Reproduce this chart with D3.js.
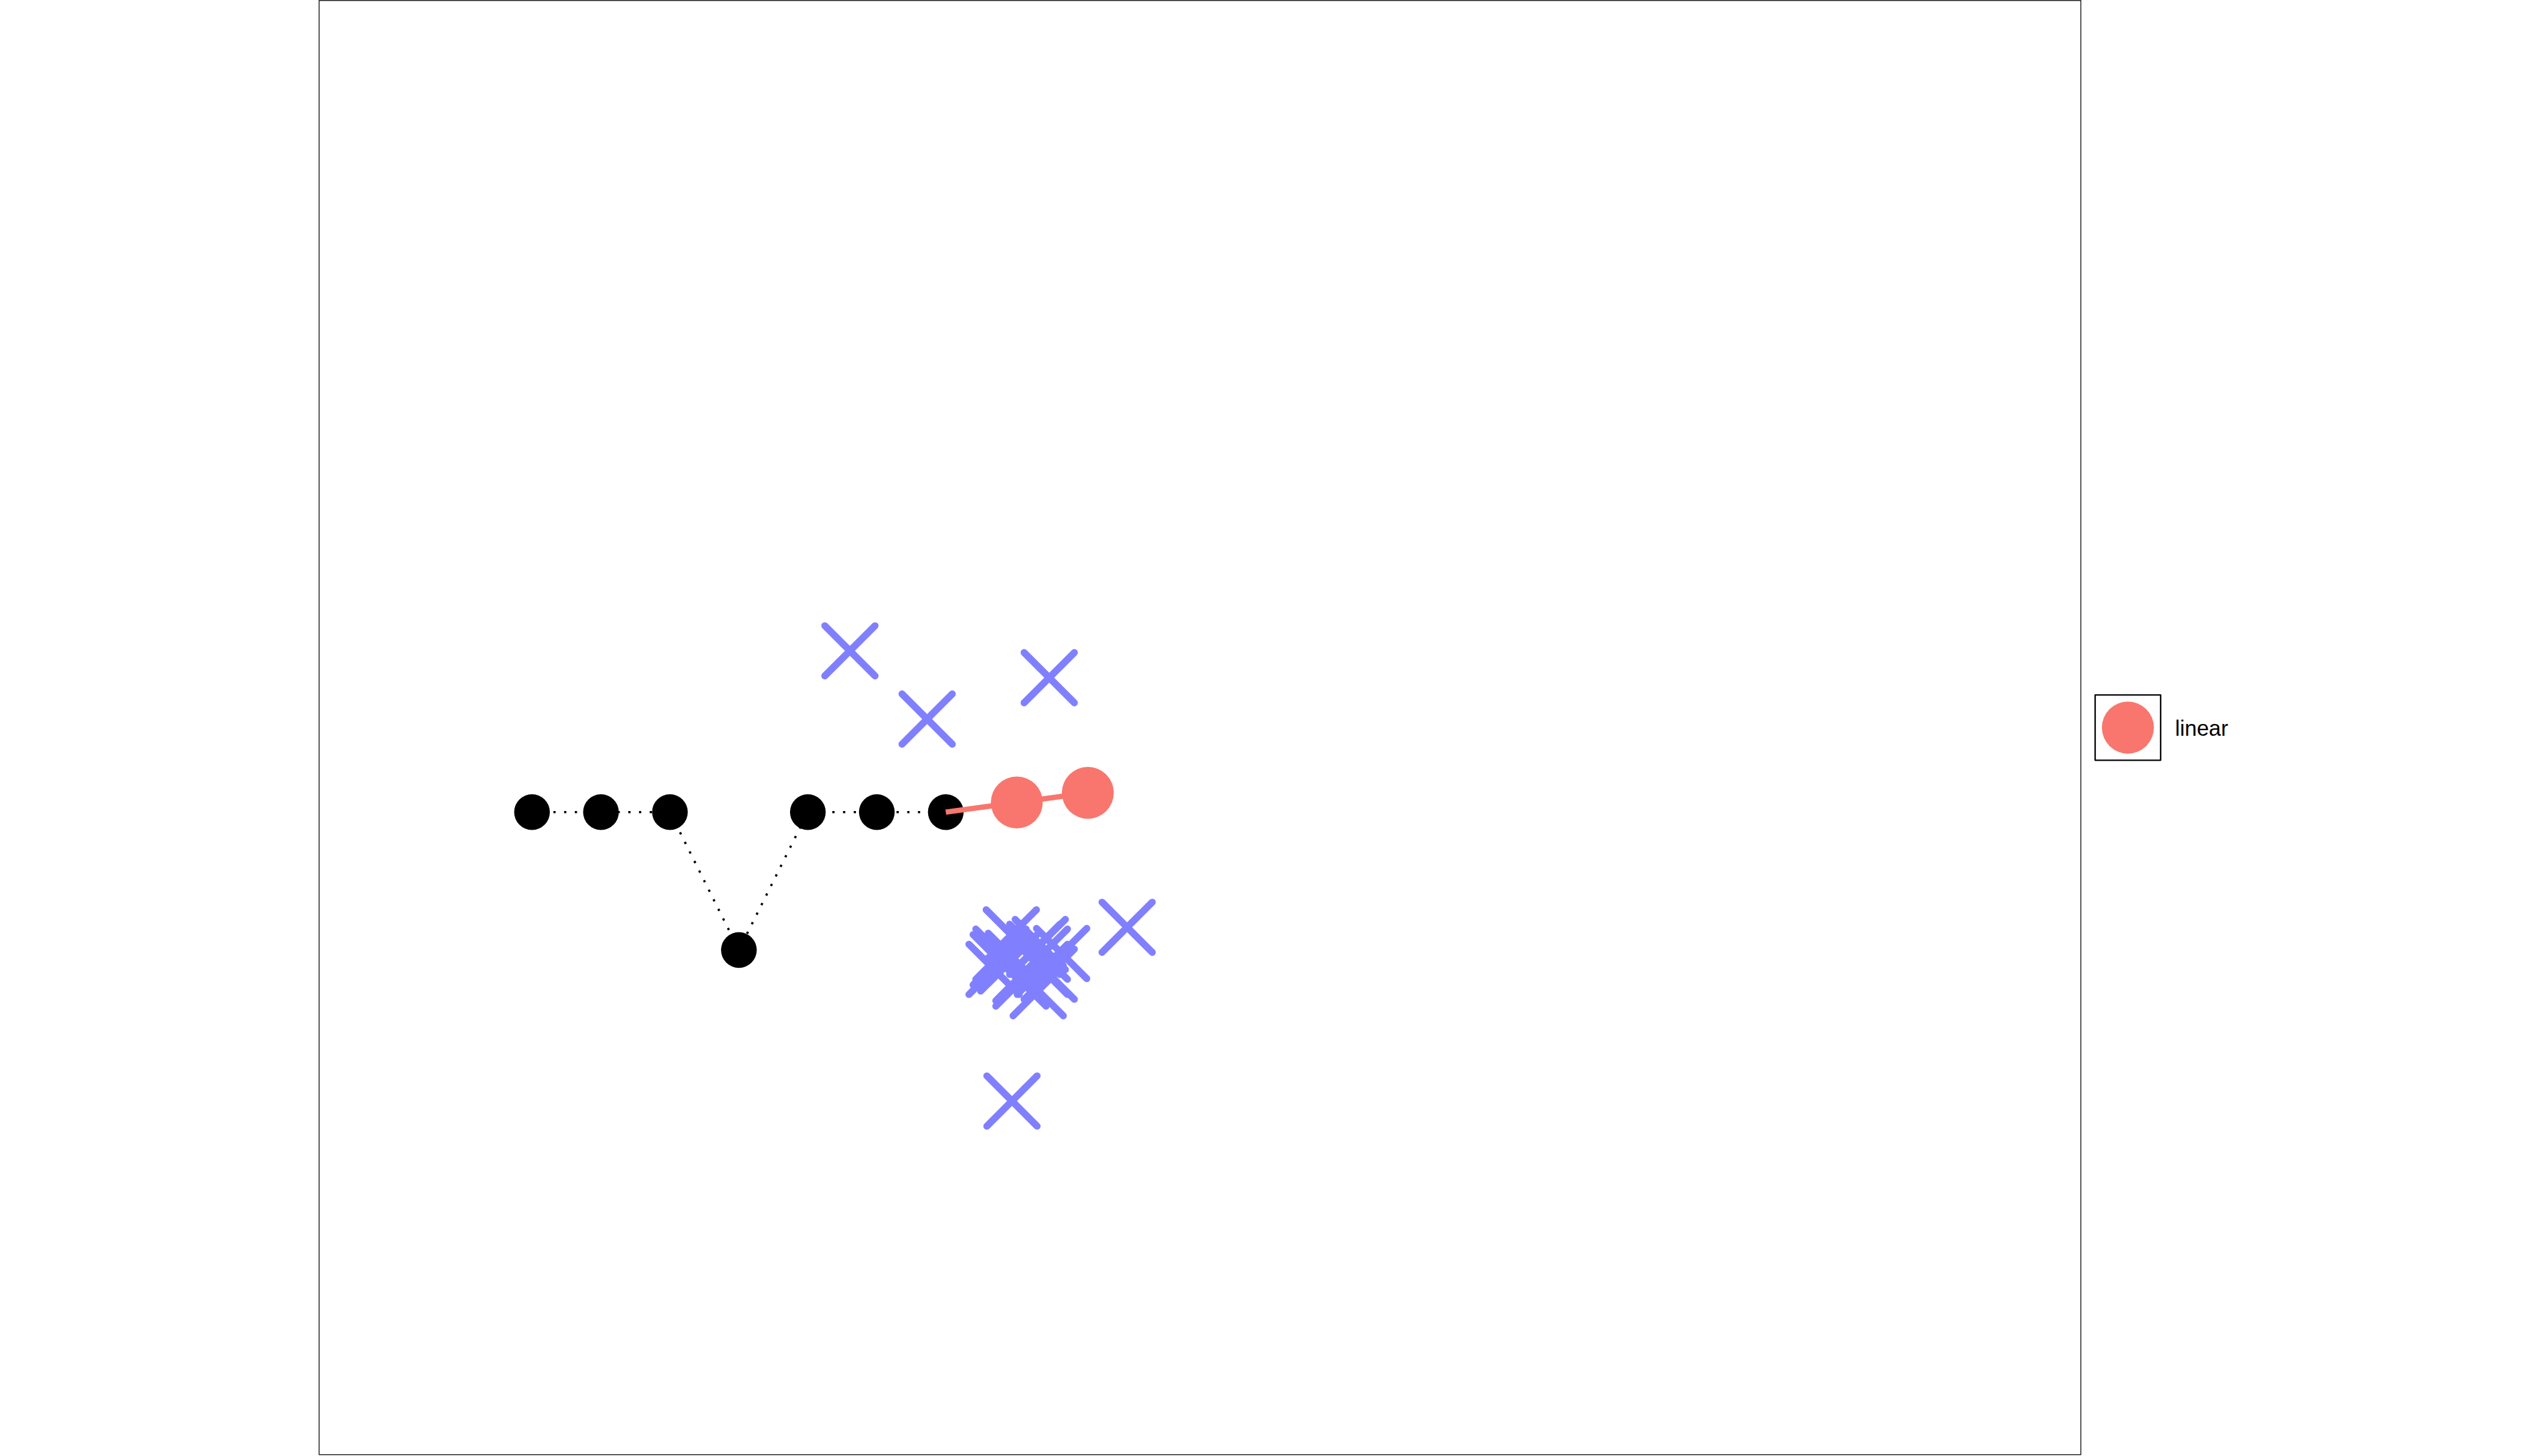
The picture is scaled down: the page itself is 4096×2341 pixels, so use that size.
<!DOCTYPE html>
<html>
<head>
<meta charset="utf-8">
<script src="https://cdn.jsdelivr.net/npm/d3@7"></script>
<style>
  html, body { margin: 0; padding: 0; background: #ffffff; }
  svg { display: block; }
</style>
</head>
<body>
<script>
// ---------------- data ----------------
const blackX = [1, 2, 3, 4, 5, 6, 7];
const blackY = [0, 0, 0, -2, 0, 0, 0];

const redX = [8.03, 9.06];
const redY = [0.14, 0.28];
// red line starts at last black point
const redLineX = [7, 8.03, 9.06];
const redLineY = [0, 0.14, 0.28];

const crossX = [5.61, 6.73, 8.50, 9.63, 7.96,
                7.95, 8.37, 8.68, 7.70, 7.80, 7.76, 7.98, 8.40,
                8.34, 8.09, 8.09, 8.50, 8.40, 8.29, 7.87];
const crossY = [2.34, 1.35, 1.95, -1.67, -4.19,
                -1.78, -1.92, -2.05, -2.28, -2.06, -2.14, -2.12, -2.06,
                -2.59, -2.45, -2.37, -2.35, -2.28, -1.99, -2.23];

const legendLabels = ["linear"];

// ---------------- layout ----------------
const W = 4096, H = 2341;
const panel = { left: 513.0, right: 3345.0, top: 0.8, bottom: 2338.8 };
const xDomain = [-2.087, 23.459];
const yDomain = [-9.319, 11.773];

const x = d3.scaleLinear().domain(xDomain).range([panel.left, panel.right]);
const y = d3.scaleLinear().domain(yDomain).range([panel.bottom, panel.top]);

const svg = d3.select("body").append("svg")
  .attr("width", W).attr("height", H)
  .attr("viewBox", `0 0 ${W} ${H}`);

svg.append("rect").attr("x", 0).attr("y", 0).attr("width", W).attr("height", H).attr("fill", "#ffffff");

const RED = "#F8766D", BLUE = "#8080FF";

const line = d3.line().x(d => x(d[0])).y(d => y(d[1]));

// dotted black path
const blackPts = blackX.map((v, i) => [v, blackY[i]]);
svg.append("path")
  .attr("d", line(blackPts))
  .attr("fill", "none")
  .attr("stroke", "#000")
  .attr("stroke-width", 3.6)
  .attr("stroke-dasharray", "3.6,13.6");

// black points
svg.append("g").selectAll("circle").data(blackPts).join("circle")
  .attr("cx", d => x(d[0])).attr("cy", d => y(d[1]))
  .attr("r", 28.7).attr("fill", "#000");

// red line
const redLinePts = redLineX.map((v, i) => [v, redLineY[i]]);
svg.append("path")
  .attr("d", line(redLinePts))
  .attr("fill", "none")
  .attr("stroke", RED)
  .attr("stroke-width", 8.5);

// red points
const redPts = redX.map((v, i) => [v, redY[i]]);
svg.append("g").selectAll("circle").data(redPts).join("circle")
  .attr("cx", d => x(d[0])).attr("cy", d => y(d[1]))
  .attr("r", 41.7).attr("fill", RED);

// blue crosses
const h = 40.4;
const crossPts = crossX.map((v, i) => [v, crossY[i]]);
svg.append("g").selectAll("path").data(crossPts).join("path")
  .attr("d", d => {
    const cx = x(d[0]), cy = y(d[1]);
    return `M${cx - h},${cy - h}L${cx + h},${cy + h}M${cx - h},${cy + h}L${cx + h},${cy - h}`;
  })
  .attr("fill", "none")
  .attr("stroke", BLUE)
  .attr("stroke-width", 11.3)
  .attr("stroke-linecap", "round");

// panel border
svg.append("rect")
  .attr("x", panel.left).attr("y", panel.top)
  .attr("width", panel.right - panel.left)
  .attr("height", panel.bottom - panel.top)
  .attr("fill", "none")
  .attr("stroke", "#222222")
  .attr("stroke-width", 1.5);

// legend
const lg = svg.append("g");
legendLabels.forEach((lab, i) => {
  const bx = 3368.0, by = 1117.4, bw = 105.3, bh = 104.9;
  lg.append("rect")
    .attr("x", bx).attr("y", by).attr("width", bw).attr("height", bh)
    .attr("fill", "#ffffff").attr("stroke", "#000")
    .attr("stroke-width", 2.3).attr("stroke-linejoin", "round");
  lg.append("circle")
    .attr("cx", bx + bw / 2).attr("cy", by + bh / 2)
    .attr("r", 41.8).attr("fill", RED);
  lg.append("text")
    .attr("x", 3496.4).attr("y", 1182.7)
    .attr("font-family", "'Liberation Sans', Arial, Helvetica, sans-serif")
    .attr("font-size", 35)
    .attr("fill", "#000")
    .text(lab);
});
</script>
</body>
</html>
